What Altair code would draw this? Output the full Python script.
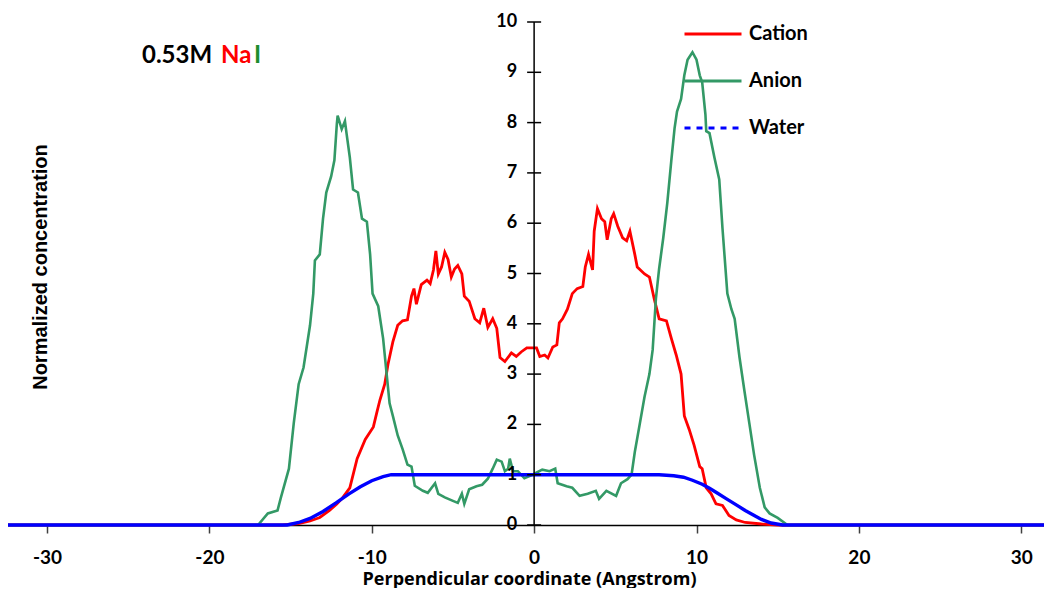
import altair as alt
import pandas as pd

# ---------------- data ----------------
cation_x = [-32.4, -15.5, -14.5, -13.8, -13.2, -12.6, -12.15, -11.8, -11.35, -10.9, -10.4, -9.9, -9.7, -9.5,
            -9.2, -9.0, -8.7, -8.4, -8.1, -7.8, -7.55, -7.4, -7.25, -6.95, -6.6, -6.4, -6.2, -6.05, -5.9,
            -5.7, -5.5, -5.3, -5.1, -4.9, -4.7, -4.45, -4.3, -4.0, -3.65, -3.35, -3.1, -2.85, -2.55, -2.3,
            -2.1, -1.8, -1.4, -1.1, -0.8, -0.45, -0.1, 0.15, 0.35, 0.65, 0.85, 1.15, 1.4, 1.55, 1.75, 2.05,
            2.35, 2.65, 3.0, 3.15, 3.35, 3.6, 3.7, 3.9, 4.15, 4.35, 4.5, 4.75, 4.9, 5.15, 5.45, 5.7, 5.9,
            6.2, 6.35, 6.8, 7.1, 7.4, 7.7, 8.15, 8.45, 8.75, 9.05, 9.25, 9.55, 9.85, 10.2, 10.35, 10.6,
            10.9, 11.2, 11.6, 12.0, 12.45, 13.0, 14.0, 15.0, 31.4]
cation_y = [0, 0, 0.03, 0.08, 0.15, 0.29, 0.42, 0.54, 0.74, 1.32, 1.70, 1.95, 2.22, 2.48,
            2.80, 3.19, 3.64, 3.97, 4.06, 4.08, 4.55, 4.70, 4.39, 4.78, 4.87, 4.80, 5.07, 5.45, 4.99,
            5.13, 5.42, 5.28, 4.93, 5.09, 5.16, 4.99, 4.55, 4.45, 4.10, 4.02, 4.31, 3.93, 4.10, 3.91,
            3.33, 3.25, 3.42, 3.35, 3.44, 3.52, 3.52, 3.52, 3.35, 3.38, 3.32, 3.54, 3.58, 4.02, 4.10, 4.29,
            4.60, 4.70, 4.74, 5.13, 5.38, 5.07, 5.84, 6.29, 6.09, 6.03, 5.67, 6.09, 6.19, 5.94, 5.71, 5.65, 5.84,
            5.38, 5.13, 4.99, 4.93, 4.49, 4.10, 4.06, 3.71, 3.38, 3.00, 2.17, 1.90, 1.59, 1.16, 1.12, 0.74,
            0.62, 0.42, 0.39, 0.19, 0.10, 0.05, 0.02, 0, 0]

anion_x = [-32.4, -17.0, -16.4, -15.8, -15.6, -15.1, -14.8, -14.5, -14.2, -13.8, -13.6, -13.5, -13.2, -13.0,
           -12.8, -12.5, -12.3, -12.15, -12.1, -11.85, -11.65, -11.55, -11.35, -11.15, -10.85, -10.6, -10.3,
           -10.1, -9.95, -9.6, -9.3, -9.1, -8.9, -8.7, -8.4, -8.1, -7.8, -7.55, -7.35, -6.85, -6.55, -6.1,
           -5.9, -5.5, -5.0, -4.7, -4.45, -4.3, -4.0, -3.55, -3.2, -2.85, -2.55, -2.3, -2.0, -1.8, -1.6, -1.5,
           -1.3, -1.0, -0.6, -0.1, 0.5, 0.95, 1.3, 1.45, 2.0, 2.35, 2.8, 3.3, 3.8, 4.0, 4.45, 5.05, 5.35,
           5.75, 6.0, 6.2, 6.5, 6.8, 7.1, 7.3, 7.5, 7.7, 7.95, 8.2, 8.45, 8.65, 8.8, 9.05, 9.25, 9.45, 9.75,
           10.0, 10.2, 10.35, 10.55, 10.6, 10.8, 11.1, 11.4, 11.6, 11.9, 12.15, 12.35, 12.65, 12.95, 13.25,
           13.55, 13.9, 14.2, 14.5, 15.0, 15.6, 31.4]
anion_y = [0, 0, 0.23, 0.29, 0.54, 1.12, 2.03, 2.80, 3.13, 3.97, 4.60, 5.26, 5.38, 6.09,
           6.61, 6.93, 7.25, 7.97, 8.14, 7.87, 8.03, 7.78, 7.31, 6.67, 6.61, 6.09, 6.03,
           5.38, 4.60, 4.35, 3.71, 3.06, 2.42, 2.17, 1.78, 1.51, 1.20, 1.16, 0.78, 0.68, 0.64, 0.83,
           0.62, 0.55, 0.48, 0.44, 0.62, 0.42, 0.71, 0.77, 0.80, 0.92, 1.12, 1.30, 1.26, 1.07, 1.12, 1.32,
           1.07, 1.07, 0.93, 1.0, 1.10, 1.07, 1.12, 0.83, 0.77, 0.74, 0.58, 0.62, 0.68, 0.52, 0.68, 0.58, 0.83,
           0.91, 1.0, 1.45, 2.0, 2.55, 3.0, 3.48, 4.5, 5.1, 5.7, 6.4, 7.25, 7.89, 8.22, 8.47, 8.94, 9.25, 9.40,
           9.25, 8.94, 8.80, 8.16, 7.83, 7.79, 7.31, 6.87, 5.90, 4.60, 4.29, 4.10, 3.33, 2.67, 2.03,
           1.39, 0.74, 0.35, 0.23, 0.14, 0, 0]

water_x = [-32.4, -15.2, -14.5, -13.8, -13.0, -12.2, -11.4, -10.7, -10.0, -9.3, -8.8, 7.7, 8.6, 9.2, 9.75,
           10.35, 10.8, 11.3, 11.8, 12.4, 13.0, 13.5, 14.0, 14.6, 15.3, 31.4]
water_y = [0, 0, 0.05, 0.13, 0.27, 0.44, 0.62, 0.76, 0.88, 0.96, 1.0, 1.0, 0.98, 0.95, 0.89,
           0.81, 0.73, 0.63, 0.53, 0.41, 0.29, 0.20, 0.11, 0.04, 0, 0]

series_names = ["Cation", "Anion", "Water"]
series_colors = ["#FF0000", "#339966", "#0000FF"]
series_dashes = [[1, 0], [1, 0], [6, 6]]
x_ticks = [-30, -20, -10, 0, 10, 20, 30]
y_ticks = [0, 1, 2, 3, 4, 5, 6, 7, 8, 9, 10]
x_domain = [-32.4, 31.4]
y_domain = [0, 10]

x_title = "Perpendicular coordinate (Angstrom)"
y_title = "Normalized concentration"

# ---------------- chart ----------------
def frame(name, xs, ys):
    return pd.DataFrame({"x": xs, "y": ys, "series": name})

xscale = alt.Scale(domain=x_domain, nice=False, zero=False)
yscale = alt.Scale(domain=y_domain, nice=False, zero=False)

x_axis = alt.Axis(values=x_ticks, grid=False, tickSize=8, tickWidth=1.5, tickColor="#404040",
                  domainColor="black", domainWidth=1.5,
                  labelFont="Lato", labelFontSize=19, labelFontWeight="bold", labelColor="black",
                  labelPadding=15, labelExpr="'' + datum.value",
                  title=x_title, titleFont="Open Sans", titleFontSize=18, titleFontWeight="bold",
                  titleColor="black", titleBaseline="middle", titleY=54, titleX=521)

legend = alt.Legend(title=None, orient="none", legendX=675, legendY=-18,
                    symbolType="stroke", symbolSize=3249, symbolStrokeWidth=3,
                    labelFont="Lato", labelFontSize=20, labelFontWeight="bold", labelColor="black",
                    labelOffset=6)

color_scale = alt.Scale(domain=series_names, range=series_colors)
dash_scale = alt.Scale(domain=series_names, range=series_dashes)


def line_layer(df, width):
    return alt.Chart(df).mark_line(strokeWidth=width, interpolate="linear").encode(
        x=alt.X("x:Q", scale=xscale, axis=x_axis),
        y=alt.Y("y:Q", scale=yscale, axis=None),
        color=alt.Color("series:N", scale=color_scale, legend=legend),
        order=alt.Order("x:Q"),
    )


cat = line_layer(frame("Cation", cation_x, cation_y), 2.8)
ani = line_layer(frame("Anion", anion_x, anion_y), 2.6)
wat = line_layer(frame("Water", water_x, water_y), 3.4)

# one-point series only feed the legend (a single point draws no line)
legend_df = pd.DataFrame({"x": [0, 0, 0], "y": [0, 0, 0], "series": series_names})
legend_layer = alt.Chart(legend_df).mark_line(strokeWidth=3).encode(
    x=alt.X("x:Q", scale=xscale, axis=x_axis),
    y=alt.Y("y:Q", scale=yscale, axis=None),
    color=alt.Color("series:N", scale=color_scale, legend=legend),
    strokeDash=alt.StrokeDash("series:N", scale=dash_scale, legend=legend),
)

ytick_df = pd.DataFrame({"x": [0] * len(y_ticks), "y": y_ticks, "label": [str(v) for v in y_ticks]})
axis_df = pd.DataFrame({"x": [0], "y": [y_domain[0]], "y2": [y_domain[1]]})

yaxis_line = alt.Chart(axis_df).mark_rule(color="black", strokeWidth=1.5).encode(
    x=alt.X("x:Q", scale=xscale, axis=x_axis),
    y=alt.Y("y:Q", scale=yscale, axis=None),
    y2="y2:Q",
)
yaxis_ticks = alt.Chart(ytick_df).mark_rule(color="black", strokeWidth=1.5, xOffset=-7, x2Offset=7).encode(
    x=alt.X("x:Q", scale=xscale, axis=x_axis),
    x2="x:Q",
    y=alt.Y("y:Q", scale=yscale, axis=None),
)
yaxis_labels = alt.Chart(ytick_df).mark_text(align="right", baseline="middle", dx=-17, font="Lato",
                                              fontSize=18, fontWeight="bold", color="black").encode(
    x=alt.X("x:Q", scale=xscale, axis=x_axis),
    y=alt.Y("y:Q", scale=yscale, axis=None),
    text="label:N",
)

ytitle = alt.Chart(pd.DataFrame({"t": [y_title]})).mark_text(
    angle=270, align="center", baseline="middle", font="Arial", fontSize=20,
    fontWeight="bold", color="black").encode(x=alt.value(33), y=alt.value(245), text="t:N")

t1 = alt.Chart(pd.DataFrame({"t": ["0.53M"]})).mark_text(
    align="left", baseline="middle", font="Lato", fontSize=24, fontWeight="bold", color="black"
).encode(x=alt.value(134), y=alt.value(34), text="t:N")
t2 = alt.Chart(pd.DataFrame({"t": ["Na"]})).mark_text(
    align="left", baseline="middle", font="Lato", fontSize=24, fontWeight="bold", color="#FF0000"
).encode(x=alt.value(213), y=alt.value(34), text="t:N")
t3 = alt.Chart(pd.DataFrame({"t": ["I"]})).mark_text(
    align="left", baseline="middle", font="Lato", fontSize=24, fontWeight="bold", color="#1E8C2E"
).encode(x=alt.value(246), y=alt.value(34), text="t:N")

chart = alt.layer(cat, ani, wat, legend_layer, yaxis_line, yaxis_ticks, yaxis_labels,
                  ytitle, t1, t2, t3).properties(
    width=1036, height=503,
    autosize=alt.AutoSizeParams(type="none"),
    padding={"left": 0, "top": 14, "right": 0, "bottom": 63},
    background="white",
).configure_view(stroke=None).configure_legend(rowPadding=7)

chart.save("out.html", embed_options={"renderer": "svg", "actions": False})
